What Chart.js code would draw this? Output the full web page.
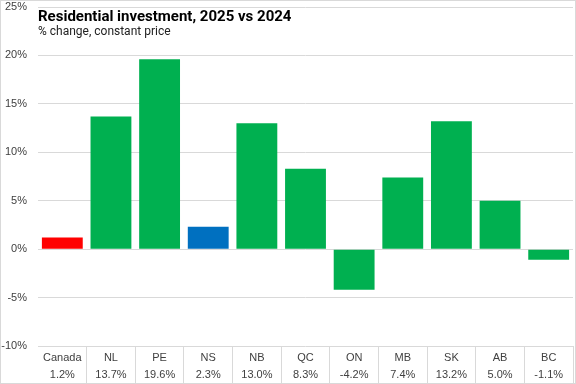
<!DOCTYPE html>
<html>
<head>
<meta charset="utf-8">
<script src="https://cdn.jsdelivr.net/npm/chart.js@4.4.1/dist/chart.umd.min.js"></script>
<style>
  html, body { margin: 0; padding: 0; background: #fff; }
  #wrap { width: 576px; height: 384px; position: relative; }
</style>
</head>
<body>
<div id="wrap"><canvas id="chart"></canvas></div>
<script>
const categories = ["Canada", "NL", "PE", "NS", "NB", "QC", "ON", "MB", "SK", "AB", "BC"];
const changes = [1.2, 13.7, 19.6, 2.3, 13.0, 8.3, -4.2, 7.4, 13.2, 5.0, -1.1];
const barColors = ["#ff0000", "#00b050", "#00b050", "#0070c0", "#00b050", "#00b050",
  "#00b050", "#00b050", "#00b050", "#00b050", "#00b050"];
const titleText = "Residential investment, 2025 vs 2024";
const subtitleText = "% change, constant price";

const gridColor = "#d9d9d9";

// labels for the data table under the axis: name + value
const tableLabels = categories.map((c, i) => [c, changes[i].toFixed(1) + "%"]);

const chartDecor = {
  id: "chartDecor",
  afterDraw(chart) {
    const ctx = chart.ctx;
    const area = chart.chartArea;
    ctx.save();
    // title
    ctx.fillStyle = "#000";
    ctx.textBaseline = "middle";
    ctx.textAlign = "left";
    ctx.font = "bold 15px Roboto";
    ctx.fillText(titleText, area.left, 17);
    ctx.font = "12px Roboto";
    ctx.fillStyle = "#222";
    ctx.fillText(subtitleText, area.left, 32);
    // outer border
    ctx.strokeStyle = gridColor;
    ctx.lineWidth = 1;
    ctx.strokeRect(0.5, 0.5, chart.width - 1, chart.height - 1);
    ctx.restore();
  }
};

new Chart(document.getElementById("chart"), {
  type: "bar",
  data: {
    labels: tableLabels,
    datasets: [{
      data: changes,
      backgroundColor: barColors,
      barPercentage: 0.84,
      categoryPercentage: 1.0
    }]
  },
  options: {
    responsive: true,
    maintainAspectRatio: false,
    animation: false,
    layout: { padding: { top: 7, right: 3, left: 0, bottom: 0 } },
    plugins: {
      legend: { display: false },
      tooltip: { enabled: false }
    },
    scales: {
      x: {
        offset: true,
        border: { display: false },
        grid: {
          offset: true,
          drawOnChartArea: false,
          tickLength: 38,
          color: ctx => ctx.index === 0 ? "rgba(0,0,0,0)" : gridColor
        },
        ticks: {
          color: "#404040",
          font: { family: "Liberation Sans", size: 11, lineHeight: 1.6 },
          padding: -35,
          maxRotation: 0,
          autoSkip: false
        },
        afterFit: s => { s.height = 38; }
      },
      y: {
        min: -10,
        max: 25,
        border: { display: false },
        grid: { color: gridColor, drawTicks: false },
        ticks: {
          stepSize: 5,
          color: "#404040",
          font: { family: "Liberation Sans", size: 11 },
          padding: 11,
          callback: v => v + "%"
        },
        afterFit: s => {
          s.width = 38;
          s.paddingTop = 0;
          s.paddingBottom = 0;
        }
      }
    }
  },
  plugins: [chartDecor]
});
</script>
</body>
</html>
